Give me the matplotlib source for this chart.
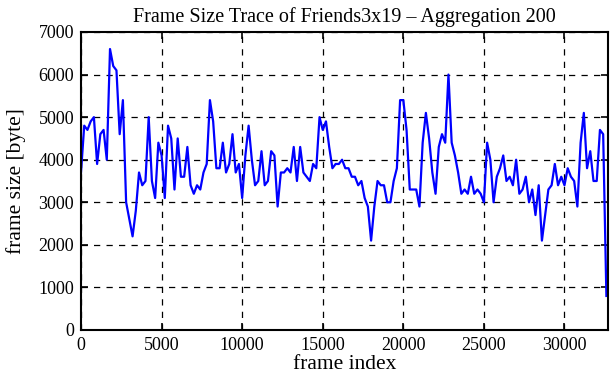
import matplotlib
matplotlib.use("Agg")
import matplotlib.pyplot as plt
import numpy as np

frame_index = list(range(0, 32800, 200))
frame_size = [
    3700, 4800, 4700, 4900, 5000, 3900, 4600, 4700, 4000, 6600,
    6200, 6100, 4600, 5400, 3000, 2600, 2200, 2800, 3700, 3400,
    3500, 5000, 3500, 3100, 4400, 4100, 3100, 4800, 4500, 3300,
    4500, 3600, 3600, 4300, 3400, 3200, 3400, 3300, 3700, 3900,
    5400, 4900, 3800, 3800, 4400, 3700, 3900, 4600, 3700, 3900,
    3100, 4100, 4800, 4000, 3400, 3500, 4200, 3400, 3500, 4200,
    4100, 2900, 3700, 3700, 3800, 3700, 4300, 3500, 4300, 3700,
    3600, 3500, 3900, 3800, 5000, 4700, 4900, 4300, 3800, 3900,
    3900, 4000, 3800, 3800, 3600, 3600, 3400, 3500, 3100, 2900,
    2100, 2900, 3500, 3400, 3400, 3000, 3000, 3500, 3800, 5400,
    5400, 4700, 3300, 3300, 3300, 2900, 4400, 5100, 4500, 3700,
    3200, 4300, 4600, 4400, 6000, 4400, 4100, 3700, 3200, 3300,
    3200, 3600, 3200, 3300, 3200, 3000, 4400, 4000, 3000, 3600,
    3800, 4100, 3500, 3600, 3400, 4000, 3200, 3300, 3600, 3000,
    3300, 2700, 3400, 2100, 2700, 3300, 3400, 3900, 3400, 3600,
    3400, 3800, 3600, 3500, 2900, 4400, 5100, 3800, 4200, 3500,
    3500, 4700, 4600, 800,
]
n = min(len(frame_index), len(frame_size))
frame_index = frame_index[:n]
frame_size = frame_size[:n]

x_ticks = [0, 5000, 10000, 15000, 20000, 25000, 30000]
y_ticks = [0, 1000, 2000, 3000, 4000, 5000, 6000, 7000]

plt.rcParams['font.family'] = ['Liberation Serif', 'DejaVu Serif']

fig = plt.figure(figsize=(6.11, 3.80), dpi=100)
ax = fig.add_axes([81/611, 1-330/380, (608-81)/611, (330-32)/380])
ax.plot(frame_index, frame_size, color=(0, 0, 1), lw=1.6)
ax.set_xlim(0, 32700)
ax.set_ylim(0, 7000)
ax.set_xticks(x_ticks)
ax.set_yticks(y_ticks)
ax.grid(True, color='black', linestyle=(0, (5, 5)), linewidth=0.9)
ax.tick_params(direction='in', top=True, right=True, labelsize=13, length=5, width=1.2, pad=5)
for s in ax.spines.values():
    s.set_linewidth(1.5)
ax.set_xlabel('frame index', fontsize=15.5, labelpad=1)
ax.set_ylabel('frame size [byte]', fontsize=15.5, labelpad=9)
ax.set_title('Frame Size Trace of Friends3x19 \u2013 Aggregation 200', fontsize=14.5, pad=7)
fig.savefig('out.png', dpi=100)
